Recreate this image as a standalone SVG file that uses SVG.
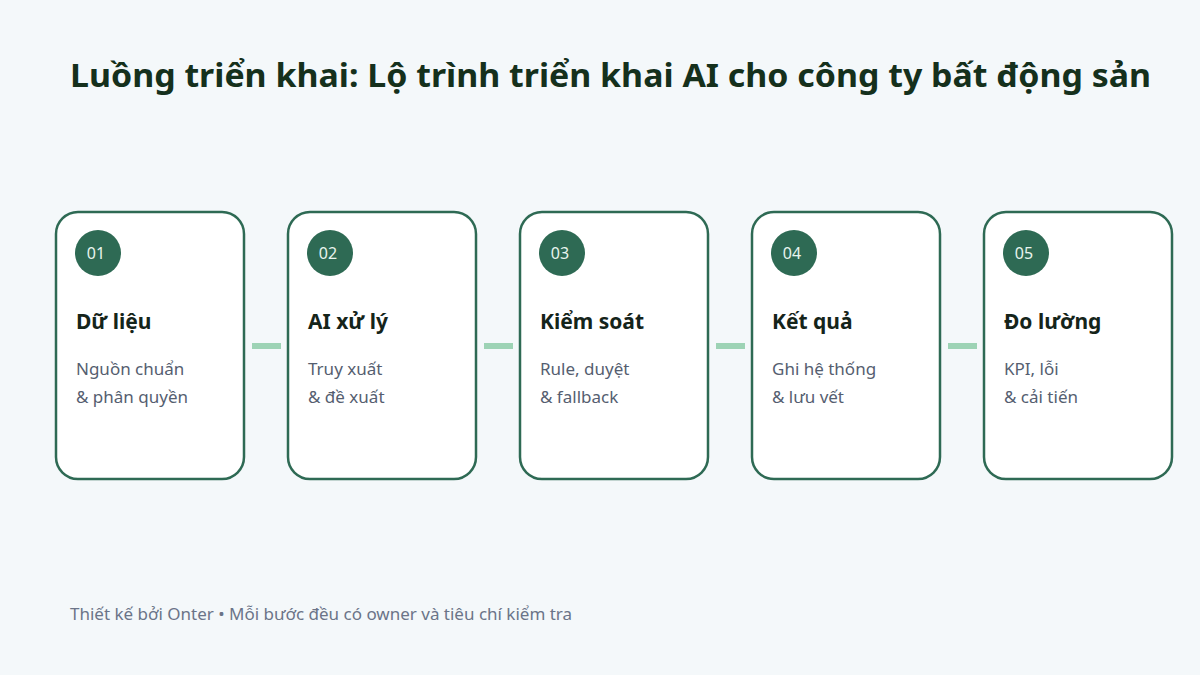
<svg xmlns="http://www.w3.org/2000/svg" width="1200" height="675" viewBox="0 0 1200 675">
<style>
.bg{fill:#f4f8fa}
.title{font-family:"Noto Sans","Open Sans",sans-serif;font-weight:700;font-size:32px;fill:#15301c}
.card{fill:#ffffff;stroke:#2e6a54;stroke-width:2.5}
.badge{fill:#2e6a54}
.num{font-family:"Noto Sans","Open Sans",sans-serif;font-size:16px;fill:#e8f4ee;text-anchor:middle}
.head{font-family:"Noto Sans","Open Sans",sans-serif;font-weight:700;font-size:21px;fill:#15241a}
.desc{font-family:"Noto Sans","Open Sans",sans-serif;font-size:17px;fill:#555e70}
.link{stroke:#9dd3b5;stroke-width:6;fill:none}
.foot{font-family:"Noto Sans","Open Sans",sans-serif;font-size:17px;fill:#6b7488}
</style>
<rect class="bg" x="0" y="0" width="1200" height="675"/>
<text class="title" x="70" y="87" textLength="1081" lengthAdjust="spacingAndGlyphs">Luồng triển khai: Lộ trình triển khai AI cho công ty bất động sản</text>
<g id="connectors">
<line class="link" x1="252" y1="346" x2="281" y2="346"/>
<line class="link" x1="484" y1="346" x2="513" y2="346"/>
<line class="link" x1="716" y1="346" x2="745" y2="346"/>
<line class="link" x1="948" y1="346" x2="977" y2="346"/>
</g>
<g id="step1">
<rect class="card" x="56" y="212" width="188" height="267" rx="22"/>
<circle class="badge" cx="98" cy="253" r="23"/>
<text class="num" x="96" y="259">01</text>
<text class="head" x="76" y="329">Dữ liệu</text>
<text class="desc" x="76" y="375">Nguồn chuẩn</text>
<text class="desc" x="76" y="403">&amp; phân quyền</text>
</g>
<g id="step2">
<rect class="card" x="288" y="212" width="188" height="267" rx="22"/>
<circle class="badge" cx="330" cy="253" r="23"/>
<text class="num" x="328" y="259">02</text>
<text class="head" x="308" y="329">AI xử lý</text>
<text class="desc" x="308" y="375">Truy xuất</text>
<text class="desc" x="308" y="403">&amp; đề xuất</text>
</g>
<g id="step3">
<rect class="card" x="520" y="212" width="188" height="267" rx="22"/>
<circle class="badge" cx="562" cy="253" r="23"/>
<text class="num" x="560" y="259">03</text>
<text class="head" x="540" y="329">Kiểm soát</text>
<text class="desc" x="540" y="375">Rule, duyệt</text>
<text class="desc" x="540" y="403">&amp; fallback</text>
</g>
<g id="step4">
<rect class="card" x="752" y="212" width="188" height="267" rx="22"/>
<circle class="badge" cx="794" cy="253" r="23"/>
<text class="num" x="792" y="259">04</text>
<text class="head" x="772" y="329">Kết quả</text>
<text class="desc" x="772" y="375">Ghi hệ thống</text>
<text class="desc" x="772" y="403">&amp; lưu vết</text>
</g>
<g id="step5">
<rect class="card" x="984" y="212" width="188" height="267" rx="22"/>
<circle class="badge" cx="1026" cy="253" r="23"/>
<text class="num" x="1024" y="259">05</text>
<text class="head" x="1004" y="329">Đo lường</text>
<text class="desc" x="1004" y="375">KPI, lỗi</text>
<text class="desc" x="1004" y="403">&amp; cải tiến</text>
</g>
<text class="foot" x="70" y="620">Thiết kế bởi Onter • Mỗi bước đều có owner và tiêu chí kiểm tra</text>
</svg>
